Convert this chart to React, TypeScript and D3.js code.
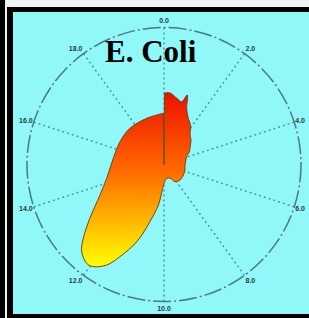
import React from "react";
import * as d3 from "d3";

// polar profile: time (0..20 around the clock) and relative level (1 = outer ring)
const times = [
  0.02, 0.27, 0.61, 0.87, 1.03, 1.22, 1.54, 1.9, 2.3, 2.66, 2.9, 3.51, 3.7, 3.94, 4.5, 5.08,
  5.8, 6.58, 7.44, 8.19, 8.67, 9.39, 9.89, 10.17, 10.44, 10.77, 11.08, 11.42, 11.65,
  11.93, 12.11, 12.41, 12.64, 13.01, 13.58, 14.25, 15.39, 16.52, 17.6, 18.86, 19.96,
];
const levels = [
  0.522, 0.524, 0.492, 0.476, 0.535, 0.442, 0.381, 0.345, 0.287, 0.266, 0.245, 0.207, 0.19,
  0.175, 0.16, 0.153, 0.158, 0.161, 0.163, 0.149, 0.108, 0.104, 0.126, 0.174, 0.299, 0.43,
  0.598, 0.746, 0.845, 0.907, 0.916, 0.875, 0.799, 0.666, 0.518, 0.43, 0.373, 0.362, 0.363,
  0.36, 0.374,
];
const tickValues = [0, 2, 4, 6, 8, 10, 12, 14, 16, 18];
const title = "E. Coli";

const W = 309;
const H = 318;
const cx = 164;
const cy = 164.5;
const R = 137;

export default function App() {
  const angle = d3.scaleLinear().domain([0, 20]).range([0, 2 * Math.PI]);
  const radius = d3.scaleLinear().domain([0, 1]).range([0, R]);

  const pts = times.map((t, i) => ({ t, v: levels[i] }));
  const line = d3
    .lineRadial<{ t: number; v: number }>()
    .angle((d) => angle(d.t))
    .radius((d) => radius(d.v))
    .curve(d3.curveCatmullRom);
  // closed through the centre, like the original plot
  const body = (line(pts) || "").replace(/^M/, "L");
  const shape = `M0,0${body}L0,0Z`;

  return (
    <svg width={W} height={H} style={{ position: "absolute", left: 0, top: 0 }}>
      <defs>
        <linearGradient id="fillGrad" gradientUnits="userSpaceOnUse" x1="0" y1={93 - cy} x2="0" y2={267 - cy}>
          <stop offset="0" stopColor="#ee1000" />
          <stop offset="0.45" stopColor="#ff6a00" />
          <stop offset="1" stopColor="#ffff00" />
        </linearGradient>
      </defs>
      {/* frame */}
      <rect x={0} y={0} width={W} height={H} fill="#f2f2f2" />
      <rect x={0} y={0} width={5} height={H} fill="#000" />
      <rect x={7} y={7} width={W - 7} height={H - 7} fill="#000" />
      <rect x={13} y={12} width={W - 13} height={314 - 12} fill="#90f8f8" />

      <g transform={`translate(${cx},${cy})`}>
        {tickValues.map((t) => {
          const a = angle(t);
          return (
            <line
              key={`s${t}`}
              x1={0}
              y1={0}
              x2={R * Math.sin(a)}
              y2={-R * Math.cos(a)}
              stroke="#5296a0"
              strokeWidth={1.5}
              strokeDasharray="2 3"
            />
          );
        })}
        <circle r={R} fill="none" stroke="#4a7a82" strokeWidth={1.5} strokeDasharray="18 3 2 3" />

        <path d={shape} fill="url(#fillGrad)" stroke="#6b4a12" strokeWidth={1} strokeLinejoin="round" />

        {tickValues.map((t) => {
          const a = angle(t);
          const s = Math.sin(a);
          const x = R * s;
          const y = -(R + 7) * Math.cos(a);
          const anchor = Math.abs(s) < 0.1 ? "middle" : s > 0 ? "start" : "end";
          return (
            <text
              key={`l${t}`}
              x={x + (anchor === "start" ? 1 : anchor === "end" ? -1 : 0)}
              y={y}
              textAnchor={anchor}
              dominantBaseline="central"
              fontFamily="Liberation Sans, Arial, sans-serif"
              fontWeight="bold"
              fontSize={7}
              fill="#2b3b3c"
            >
              {t.toFixed(1)}
            </text>
          );
        })}
      </g>

      <text x={105} y={62} fontFamily="Liberation Serif, Times New Roman, serif" fontWeight="bold" fontSize={31} fill="#000">
        {title}
      </text>
    </svg>
  );
}
